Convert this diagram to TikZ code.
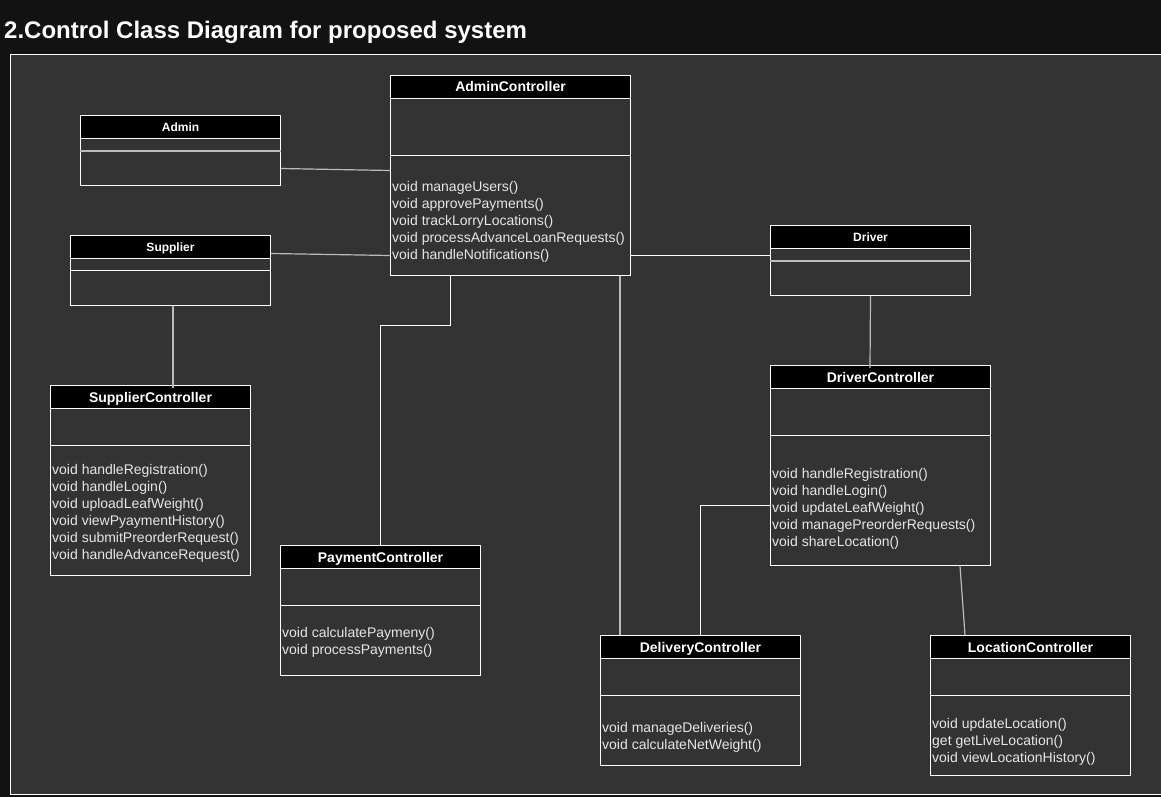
\documentclass[tikz,border=0pt]{standalone}
\usepackage{fontspec}
\setmainfont{Liberation Sans}
\usetikzlibrary{calc}
\definecolor{outerbg}{HTML}{121212}
\definecolor{panel}{HTML}{333333}
\definecolor{conn}{HTML}{BBBBBB}
\definecolor{mtext}{HTML}{E6E6E6}
\tikzset{
  hdr/.style={draw=white, line width=1pt, fill=black, text=white, anchor=north west, inner sep=0pt,
    minimum height=23pt, text height=10pt, text depth=0pt, font=\fontsize{14}{16}\selectfont\bfseries},
  shdr/.style={hdr, text height=8.6pt, font=\fontsize{12}{14}\selectfont\bfseries},
  sec/.style={draw=white, line width=1pt, anchor=north west, inner sep=0pt},
  meth/.style={anchor=west, inner sep=0pt, align=left, text=mtext,
    font=\fontsize{14}{17}\selectfont},
  wline/.style={draw=white, line width=1pt},
  gline/.style={draw=conn, line width=1.2pt},
}
\begin{document}
\begin{tikzpicture}[x=1pt,y=-1pt]
\useasboundingbox (0,0) rectangle (1161,797);
\fill[outerbg] (0,0) rectangle (1161,797);
\path[fill=panel, draw=white, line width=1pt] (10,55) -- (1162,55) -- (1162,794.5) -- (10,794.5) -- cycle;
\node[anchor=base west, inner sep=0pt, text=white, font=\fontsize{24}{28}\selectfont\bfseries] (title) at (4,39) {2.Control Class Diagram for proposed system};

% Admin
\node[shdr, minimum width=200pt] (adh) at (80,115) {Admin};
\node[sec, minimum width=200pt, minimum height=12pt] (ada) at (80,138) {};
\node[sec, minimum width=200pt, minimum height=35pt] (adm) at (80,150) {};
\draw[conn, line width=2pt] (ada.south west) -- (ada.south east);

% Supplier
\node[shdr, minimum width=200pt] (suh) at (70,235) {Supplier};
\node[sec, minimum width=200pt, minimum height=12pt] (sua) at (70,258) {};
\node[sec, minimum width=200pt, minimum height=35pt] (sum) at (70,270) {};

% Driver
\node[shdr, minimum width=200pt] (drh) at (770,225) {Driver};
\node[sec, minimum width=200pt, minimum height=12pt] (dra) at (770,248) {};
\node[sec, minimum width=200pt, minimum height=35pt] (drm) at (770,260) {};
\draw[conn, line width=2pt] (dra.south west) -- (dra.south east);

% AdminController
\node[hdr, minimum width=240pt] (ach) at (390,75) {AdminController};
\node[sec, minimum width=240pt, minimum height=57pt] (aca) at (390,98) {};
\node[sec, minimum width=240pt, minimum height=120pt] (acm) at (390,155) {};
\node[meth] (act) at (392,222) {void manageUsers()\\void approvePayments()\\void trackLorryLocations()\\void processAdvanceLoanRequests()\\void handleNotifications()};

% SupplierController
\node[hdr, minimum width=200pt] (sch) at (50,385) {SupplierController};
\node[sec, minimum width=200pt, minimum height=37pt] (sca) at (50,408) {};
\node[sec, minimum width=200pt, minimum height=130pt] (scm) at (50,445) {};
\node[meth] (sct) at (52,513.5) {void handleRegistration()\\void handleLogin()\\void uploadLeafWeight()\\void viewPyaymentHistory()\\void submitPreorderRequest()\\void handleAdvanceRequest()};

% DriverController
\node[hdr, minimum width=220pt] (dch) at (770,365) {DriverController};
\node[sec, minimum width=220pt, minimum height=47pt] (dca) at (770,388) {};
\node[sec, minimum width=220pt, minimum height=130pt] (dcm) at (770,435) {};
\node[meth] (dct) at (772,508.5) {void handleRegistration()\\void handleLogin()\\void updateLeafWeight()\\void managePreorderRequests()\\void shareLocation()};

% PaymentController
\node[hdr, minimum width=200pt] (pch) at (280,545) {PaymentController};
\node[sec, minimum width=200pt, minimum height=37pt] (pca) at (280,568) {};
\node[sec, minimum width=200pt, minimum height=70pt] (pcm) at (280,605) {};
\node[meth] (pct) at (282,642.5) {void calculatePaymeny()\\void processPayments()};

% DeliveryController
\node[hdr, minimum width=200pt] (dlh) at (600,635) {DeliveryController};
\node[sec, minimum width=200pt, minimum height=37pt] (dla) at (600,658) {};
\node[sec, minimum width=200pt, minimum height=70pt] (dlm) at (600,695) {};
\node[meth] (dlt) at (602,737.5) {void manageDeliveries()\\void calculateNetWeight()};

% LocationController
\node[hdr, minimum width=200pt] (lch) at (930,635) {LocationController};
\node[sec, minimum width=200pt, minimum height=37pt] (lca) at (930,658) {};
\node[sec, minimum width=200pt, minimum height=80pt] (lcm) at (930,695) {};
\node[meth] (lct) at (932,742) {void updateLocation()\\get getLiveLocation()\\void viewLocationHistory()};

% connectors
\draw[gline] ($(adm.east)+(0,0.5)$) -- ($(acm.west)+(0,-45)$);
\draw[gline] ($(suh.east)+(0,6.5)$) -- ($(acm.west)+(0,40)$);
\draw[wline] ($(acm.east)+(0,40)$) -- ($(drm.west)+(0,-22.5)$);
\draw[gline] ($(sum.south west)+(103,0)$) -- ($(sch.north west)+(123,3)$);
\draw[wline] ($(acm.south west)+(60,0)$) |- ($(pch.north west)+(100,-220)$) -- (pch.north west -| 380,0);
\draw[gline] ($(acm.south west)+(230,0)$) -- ($(dlh.north west)+(20,0)$);
\draw[gline] (drm.south) -- ($(dch.north west)+(100,3)$);
\draw[wline] ($(dcm.west)+(0,5)$) -| ($(dlh.north west)+(100,0)$);
\draw[gline] ($(dcm.south west)+(190,0)$) -- ($(lch.north west)+(35,0)$);
\end{tikzpicture}
\end{document}
